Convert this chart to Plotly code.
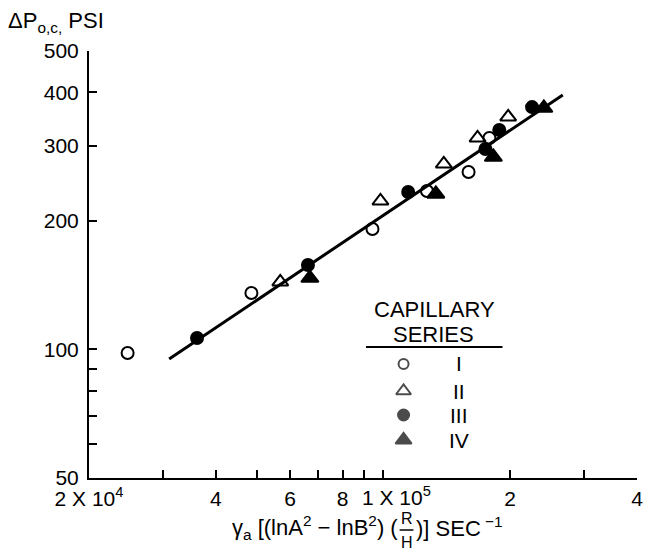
import math
import plotly.graph_objects as go

# ---- data ----
s1_x = [24700, 48600, 94200, 126900, 159300, 178500]
s1_y = [98.1, 135.6, 191.5, 235.0, 260.4, 312.8]

s2_x = [56900, 98400, 139100, 167300, 197800]
s2_y = [143.9, 222.7, 271.9, 312.8, 350.3]

s3_x = [36100, 66200, 114500, 174700, 188400, 225400]
s3_y = [106.4, 157.7, 233.7, 294.7, 326.6, 369.5]

s4_x = [66900, 133200, 182400, 240400]
s4_y = [147.0, 231.3, 282.3, 367.7]

fit_x = [31000, 266600]
fit_y = [95.0, 394.4]

x_tickvals = [2e4, 4e4, 6e4, 8e4, 2e5, 4e5]
x_ticktext = ["2 X 10<sup>4</sup>", "4", "6", "8", "2", "4"]
x_minorvals = [3e4, 5e4, 7e4, 9e4, 1e5, 3e5]
y_tickvals = [50, 100, 200, 300, 400, 500]
y_ticktext = ["50", "100", "200", "300", "400", "500"]
y_minorvals = [60, 70, 80, 90]

series_names = ["I", "II", "III", "IV"]

FONT = "Liberation Sans, Arial, Helvetica, sans-serif"
W, H = 651, 554
ML, MR, MT, MB = 89, 8, 51, 76
PW, PH = W - ML - MR, H - MT - MB
TICK_FS = 21
TXT_FS = 22


def px(xp):
    return (xp - ML) / PW


def py(yp):
    return (H - MB - yp) / PH


sym = ["circle-open", "triangle-up-open", "circle", "triangle-up"]
sizes = [12, 14, 12, 15]

fig = go.Figure()
fig.add_trace(go.Scatter(x=fit_x, y=fit_y, mode="lines",
                         line=dict(color="black", width=3), showlegend=False))
for xs, ys, s, sz in zip([s1_x, s2_x, s3_x, s4_x], [s1_y, s2_y, s3_y, s4_y], sym, sizes):
    fig.add_trace(go.Scatter(x=xs, y=ys, mode="markers",
                             marker=dict(symbol=s, size=sz, color="black",
                                         line=dict(color="black", width=2)),
                             showlegend=False))

# custom legend markers on an overlay axis (0..1)
leg_y = [py(364), py(391), py(415), py(440)]
fig.add_trace(go.Scatter(x=[px(407)] * 4, y=leg_y, mode="markers",
                         marker=dict(symbol=sym, size=[10, 13, 11, 14], color="black",
                                     line=dict(color="black", width=2)),
                         xaxis="x2", yaxis="y2", showlegend=False))

ann = []
for name, yy in zip(series_names, leg_y):
    ann.append(dict(x=px(463), y=yy, xref="paper", yref="paper", text=name,
                    showarrow=False, font=dict(size=21, family=FONT, color="black"),
                    xanchor="center", yanchor="middle"))
ann.append(dict(x=px(438), y=py(309), xref="paper", yref="paper", text="CAPILLARY",
                showarrow=False, font=dict(size=22, family=FONT, color="black"),
                xanchor="center", yanchor="middle"))
ann.append(dict(x=px(437), y=py(334), xref="paper", yref="paper", text="SERIES",
                showarrow=False, font=dict(size=22, family=FONT, color="black"),
                xanchor="center", yanchor="middle"))
# y title
ann.append(dict(x=0, y=1, xref="paper", yref="paper", xshift=-ML + 6, yshift=13,
                text="ΔP<sub>o,c,</sub> PSI", showarrow=False,
                font=dict(size=22, family=FONT, color="black"),
                xanchor="left", yanchor="bottom"))
# 1 x 10^5 tick label
ann.append(dict(x=px(363), y=py(478), xref="paper", yref="paper", yshift=-3,
                text="1 X 10<sup>5</sup>", showarrow=False,
                font=dict(size=TICK_FS, family=FONT, color="black"),
                xanchor="left", yanchor="top"))
# x title
ann.append(dict(x=px(403), y=py(527), xref="paper", yref="paper",
                text="γ<sub>a</sub> [(lnA<sup>2</sup> − lnB<sup>2</sup>) (",
                showarrow=False, font=dict(size=TXT_FS, family=FONT, color="black"),
                xanchor="right", yanchor="middle"))
ann.append(dict(x=px(410), y=py(518), xref="paper", yref="paper", text="R",
                showarrow=False, font=dict(size=16, family=FONT, color="black"),
                xanchor="center", yanchor="middle"))
ann.append(dict(x=px(410), y=py(542), xref="paper", yref="paper", text="H",
                showarrow=False, font=dict(size=16, family=FONT, color="black"),
                xanchor="center", yanchor="middle"))
ann.append(dict(x=px(418), y=py(527), xref="paper", yref="paper",
                text=")] SEC<sup> −1</sup>",
                showarrow=False, font=dict(size=TXT_FS, family=FONT, color="black"),
                xanchor="left", yanchor="middle"))

shapes = [
    dict(type="line", xref="paper", yref="paper", x0=px(369), x1=px(507),
         y0=py(347), y1=py(347), line=dict(color="black", width=2)),
    dict(type="line", xref="paper", yref="paper", x0=px(403), x1=px(417),
         y0=py(530), y1=py(530), line=dict(color="black", width=1.5)),
]

axis_common = dict(showline=True, linecolor="black", linewidth=2, ticks="inside",
                   ticklen=8, tickwidth=2, tickcolor="black", showgrid=False,
                   zeroline=False, tickfont=dict(size=TICK_FS, family=FONT, color="black"))

fig.update_layout(
    width=W, height=H,
    margin=dict(l=ML, r=MR, t=MT, b=MB),
    paper_bgcolor="white", plot_bgcolor="white",
    xaxis=dict(type="log", range=[math.log10(2e4), math.log10(4e5)],
               tickmode="array", tickvals=x_tickvals, ticktext=x_ticktext,
               minor=dict(tickmode="array", tickvals=x_minorvals, ticks="inside",
                          ticklen=8, tickwidth=2, tickcolor="black", showgrid=False),
               ticklabelstandoff=1, **axis_common),
    yaxis=dict(type="log", range=[math.log10(50), math.log10(500)],
               tickmode="array", tickvals=y_tickvals, ticktext=y_ticktext,
               minor=dict(tickmode="array", tickvals=y_minorvals, ticks="inside",
                          ticklen=8, tickwidth=2, tickcolor="black", showgrid=False),
               ticklabelstandoff=4, **axis_common),
    xaxis2=dict(overlaying="x", range=[0, 1], visible=False),
    yaxis2=dict(overlaying="y", range=[0, 1], visible=False),
    annotations=ann, shapes=shapes, showlegend=False,
)
fig.write_html("out.html")
